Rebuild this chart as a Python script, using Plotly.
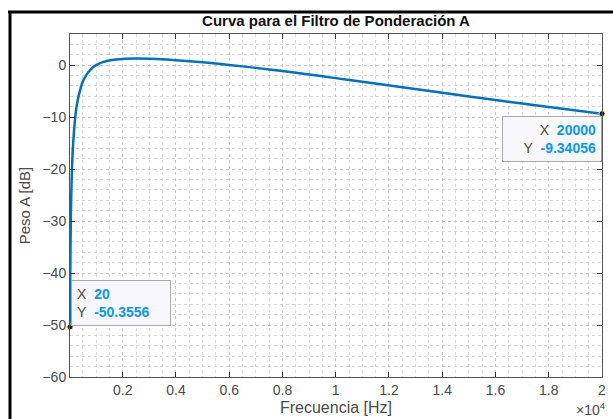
import plotly.graph_objects as go

# A-weighting curve values (frequency in Hz, weight in dB)
freq_hz = [20, 25, 31.5, 40, 50, 63, 80, 100, 125, 160, 200, 250, 315, 400, 500,
           630, 800, 1000, 1250, 1600, 2000, 2500, 3000, 3500, 4000, 5000, 6000, 7000,
           8000, 9000, 10000, 11000, 12500, 14000, 16000, 18000, 20000]
peso_db = [-50.36, -44.7, -39.4, -34.6, -30.2, -26.2, -22.5, -19.1, -16.1, -13.4,
           -10.9, -8.6, -6.6, -4.8, -3.2, -1.9, -0.8, 0.0, 0.6, 1.0, 1.2, 1.27, 1.23,
           1.12, 0.96, 0.55, 0.05, -0.52, -1.14, -1.81, -2.49, -3.19, -4.25, -5.31,
           -6.71, -8.05, -9.34]

tip_x = [20, 20000]
tip_y = [-50.3556, -9.34056]
tip_x_text = ["20", "20000"]
tip_y_text = ["-50.3556", "-9.34056"]

x_tick_vals = [2000, 4000, 6000, 8000, 10000, 12000, 14000, 16000, 18000, 20000]
x_tick_text = ["0.2", "0.4", "0.6", "0.8", "1", "1.2", "1.4", "1.6", "1.8", "2"]
y_tick_vals = [-60, -50, -40, -30, -20, -10, 0]

W, H = 613, 419
L, R, T, B = 70, 11, 34, 42
pw, ph = W - L - R, H - T - B

FONT = "Liberation Sans, Arial, sans-serif"
BLUE = "#0072BD"
VAL = "#0a96f5"
LAB = "#4a4a4a"
NB = "\u00a0"

fig = go.Figure()
fig.add_trace(go.Scatter(x=freq_hz, y=peso_db, mode="lines",
                         line=dict(color=BLUE, width=2.5, shape="spline", smoothing=0.6),
                         hoverinfo="skip", showlegend=False))
fig.add_trace(go.Scatter(x=tip_x, y=tip_y, mode="markers",
                         marker=dict(color="#111111", size=6, line=dict(color="#f2eea0", width=1)),
                         hoverinfo="skip", showlegend=False, cliponaxis=False))

grid_col = "#c8c8c8"
fig.update_xaxes(range=[20, 20000], tickvals=x_tick_vals, ticktext=x_tick_text,
                 ticks="inside", ticklen=5, tickcolor="#333", mirror="allticks",
                 showline=True, linecolor="#555", linewidth=1, automargin=False,
                 showgrid=True, gridcolor=grid_col, griddash="dot", gridwidth=1,
                 minor=dict(dtick=500, tick0=0, showgrid=True, gridcolor="#d8d8d8",
                            griddash="dot", ticks=""),
                 zeroline=False,
                 tickfont=dict(family=FONT, size=14, color=LAB),
                 title=dict(text="Frecuencia [Hz]", font=dict(family=FONT, size=16, color=LAB),
                            standoff=5))
fig.update_yaxes(range=[-60, 6], tickvals=y_tick_vals,
                 ticks="inside", ticklen=5, tickcolor="#333", mirror="allticks",
                 showline=True, linecolor="#555", linewidth=1, automargin=False,
                 showgrid=True, gridcolor=grid_col, griddash="dot", gridwidth=1,
                 minor=dict(dtick=2, tick0=0, showgrid=True, gridcolor="#d8d8d8",
                            griddash="dot", ticks=""),
                 zeroline=False,
                 tickfont=dict(family=FONT, size=14, color=LAB),
                 title=dict(text="Peso A [dB]", font=dict(family=FONT, size=15, color=LAB),
                            standoff=8))

# data tips
def tip_text(i):
    return (f"<span style='color:{LAB}'>X</span>{NB}{NB}<b><span style='color:{VAL}'>{tip_x_text[i]}</span></b><br>"
            f"<span style='color:{LAB}'>Y</span>{NB}{NB}<b><span style='color:{VAL}'>{tip_y_text[i]}</span></b>")

fig.add_annotation(x=tip_x[0], y=tip_y[0], text=tip_text(0), showarrow=False,
                   xanchor="left", yanchor="bottom", xshift=1, yshift=1,
                   align="left", width=88, borderpad=5,
                   bgcolor="#f7f7fc", bordercolor="#a8a8a8", borderwidth=1,
                   font=dict(family=FONT, size=14))
fig.add_annotation(x=tip_x[1], y=tip_y[1], text=tip_text(1), showarrow=False,
                   xanchor="right", yanchor="top", xshift=0, yshift=-2,
                   align="right", width=88, borderpad=5,
                   bgcolor="#f7f7fc", bordercolor="#a8a8a8", borderwidth=1,
                   font=dict(family=FONT, size=14))

# axis exponent
fig.add_annotation(xref="paper", yref="paper", x=1, y=0, xanchor="right", yanchor="top",
                   xshift=6, yshift=-21, showarrow=False, text="×10<sup>4</sup>",
                   font=dict(family=FONT, size=14, color=LAB))

# window frame (black border lines at top and left)
fx = (10 - L) / pw
fy = (H - B - 12) / ph
fig.add_shape(type="line", xref="paper", yref="paper", x0=fx, x1=fx, y0=-0.3, y1=fy,
              line=dict(color="black", width=3), layer="above")
fig.add_shape(type="line", xref="paper", yref="paper", x0=(8 - L) / pw, x1=1.1, y0=fy, y1=fy,
              line=dict(color="black", width=3), layer="above")

fig.update_layout(
    width=W, height=H,
    margin=dict(l=L, r=R, t=T, b=B, pad=0, autoexpand=False),
    paper_bgcolor="white", plot_bgcolor="white",
    title=dict(text="<b>Curva para el Filtro de Ponderación A</b>", x=(L + pw / 2) / W,
               xanchor="center", y=1 - 21 / H, yanchor="middle", yref="container",
               font=dict(family=FONT, size=15, color="#111")),
)

fig.write_html("out.html", config={"displayModeBar": False},
               post_script="document.body.style.margin='0';document.body.style.overflow='hidden';")
